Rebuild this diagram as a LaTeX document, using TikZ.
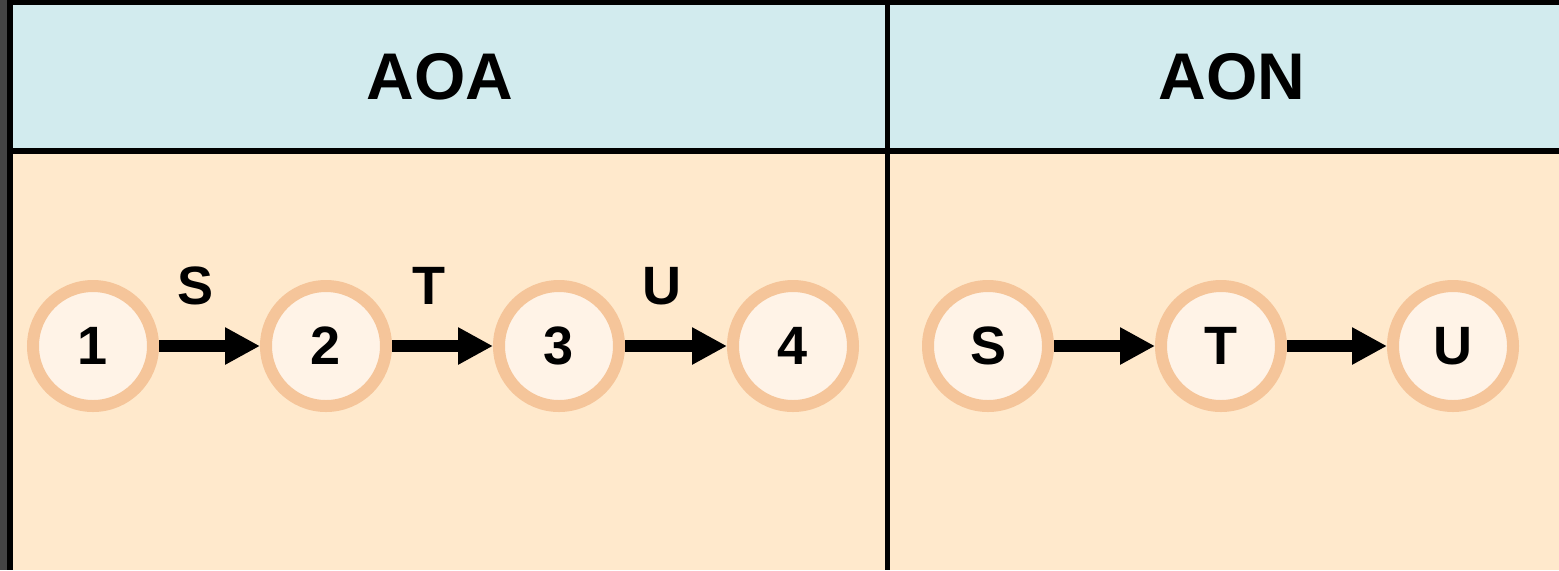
\documentclass[tikz,border=0pt]{standalone}
\usepackage{fontspec}
\setmainfont{Liberation Sans}
\usetikzlibrary{arrows.meta}

\definecolor{headblue}{HTML}{D2EBEE}
\definecolor{bodypeach}{HTML}{FFE9CC}
\definecolor{ringpeach}{HTML}{F5C59A}
\definecolor{corepeach}{HTML}{FFF3E7}
\definecolor{stripgray}{HTML}{444444}

\begin{document}
\begin{tikzpicture}[x=0.5pt, y=-0.5pt,
  event/.style={circle, draw=ringpeach, fill=corepeach, line width=6pt,
    minimum size=60pt, inner sep=0pt, font=\fontsize{27}{30}\selectfont\bfseries},
  head/.style={font=\fontsize{33}{36}\selectfont\bfseries},
  actlbl/.style={font=\fontsize{27}{30}\selectfont\bfseries, yshift=30pt, xshift=-7pt},
  link/.style={line width=6pt, -{Triangle[length=17.5pt,width=17.5pt]}}]
  \useasboundingbox (0,0) rectangle (1559,570);
  % frame and panels
  \fill[black] (7,0) rectangle (1559,570);
  \fill[stripgray] (0,0) rectangle (7,570);
  \fill[headblue] (13,5) rectangle (885,148);
  \fill[headblue] (890,5) rectangle (1559,148);
  \fill[bodypeach] (13,154) rectangle (885,570);
  \fill[bodypeach] (890,154) rectangle (1559,570);
  \node[head] (aoa) at (440,77) {AOA};
  \node[head] (aon) at (1232,77) {AON};
  % activity on arrow
  \node[event] (e1) at (93,346) {1};
  \node[event] (e2) at (326,346) {2};
  \node[event] (e3) at (559,346) {3};
  \node[event] (e4) at (793,346) {4};
  \draw[link] (e1) -- node[actlbl] {S} (e2);
  \draw[link] (e2) -- node[actlbl] {T} (e3);
  \draw[link] (e3) -- node[actlbl] {U} (e4);
  % activity on node
  \node[event] (s) at (988,346) {S};
  \node[event] (t) at (1221,346) {T};
  \node[event] (u) at (1453,346) {U};
  \draw[link] (s) -- (t);
  \draw[link] (t) -- (u);
\end{tikzpicture}
\end{document}
